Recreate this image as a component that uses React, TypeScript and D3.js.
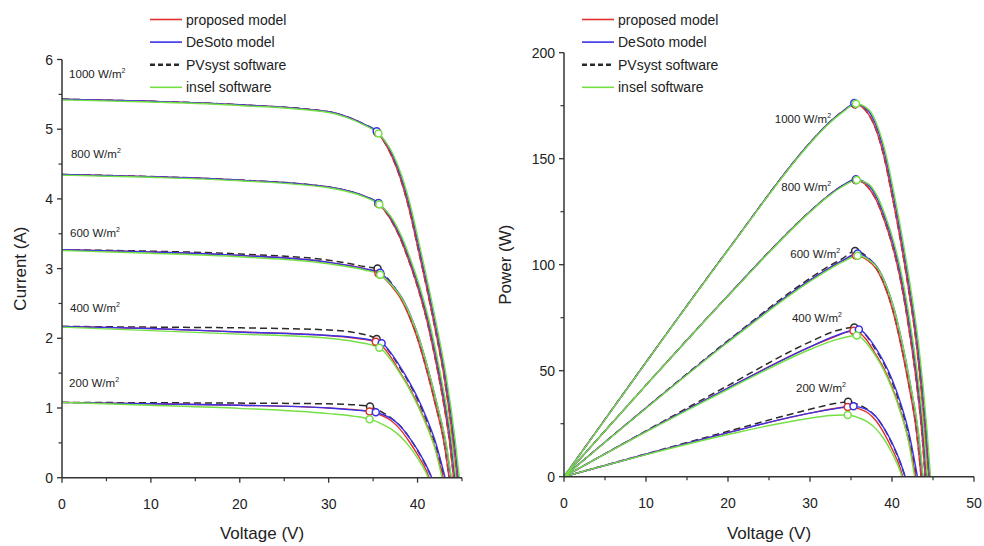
import React from 'react';
import * as d3 from 'd3';

type Pt = [number, number];

// ---------------- DATA ----------------
const irradiance = ['1000', '800', '600', '400', '200'];
const models = ['proposed model', 'DeSoto model', 'PVsyst software', 'insel software'];

// I-V curves: [voltage (V), current (A)]
const iv1000Proposed: Pt[] = [[0,5.43],[10,5.40],[20,5.35],[30,5.25],[32,5.18],[34,5.07],[35.5,4.95],[37,4.64],[38,4.32],[39,3.88],[40,3.32],[41,2.74],[42,2.12],[43,1.44],[44,0.52],[44.45,0]];
const iv1000DeSoto: Pt[] = [[0,5.43],[10,5.40],[20,5.35],[30,5.25],[32,5.18],[34,5.07],[35.5,4.96],[37.15,4.64],[38.15,4.32],[39.15,3.88],[40.15,3.32],[41.15,2.74],[42.15,2.12],[43.15,1.44],[44.15,0.52],[44.6,0]];
const iv1000PVsyst: Pt[] = [[0,5.43],[10,5.40],[20,5.35],[30,5.25],[32,5.18],[34,5.07],[35.5,4.95],[37,4.64],[38,4.32],[39,3.88],[40,3.32],[41,2.74],[42,2.12],[43,1.44],[44,0.52],[44.45,0]];
const iv1000Insel: Pt[] = [[0,5.42],[10,5.39],[20,5.34],[30,5.24],[32,5.17],[34,5.06],[35.6,4.94],[37.25,4.64],[38.25,4.32],[39.25,3.88],[40.25,3.32],[41.25,2.74],[42.25,2.12],[43.25,1.44],[44.25,0.52],[44.7,0]];

const iv800Proposed: Pt[] = [[0,4.35],[10,4.32],[20,4.27],[30,4.17],[32,4.12],[34,4.04],[35.6,3.93],[37,3.70],[38,3.45],[39,3.12],[40,2.74],[41,2.28],[42,1.70],[43,1.02],[43.6,0.52],[44.05,0]];
const iv800DeSoto: Pt[] = [[0,4.35],[10,4.32],[20,4.27],[30,4.17],[32,4.12],[34,4.04],[35.6,3.94],[37.15,3.70],[38.15,3.45],[39.15,3.12],[40.15,2.74],[41.15,2.28],[42.15,1.70],[43.15,1.02],[43.75,0.52],[44.2,0]];
const iv800PVsyst: Pt[] = [[0,4.35],[10,4.32],[20,4.27],[30,4.17],[32,4.12],[34,4.04],[35.6,3.93],[37,3.70],[38,3.45],[39,3.12],[40,2.74],[41,2.28],[42,1.70],[43,1.02],[43.6,0.52],[44.05,0]];
const iv800Insel: Pt[] = [[0,4.34],[10,4.31],[20,4.26],[30,4.16],[32,4.11],[34,4.03],[35.7,3.92],[37.25,3.70],[38.25,3.45],[39.25,3.12],[40.25,2.74],[41.25,2.28],[42.25,1.70],[43.25,1.02],[43.85,0.52],[44.3,0]];

const iv600Proposed: Pt[] = [[0,3.27],[10,3.24],[20,3.19],[30,3.09],[32,3.05],[34,3.00],[35.6,2.93],[37,2.76],[38,2.59],[39,2.33],[40,1.99],[41,1.55],[42,1.05],[43,0.48],[43.55,0]];
const iv600DeSoto: Pt[] = [[0,3.27],[10,3.24],[20,3.19],[30,3.09],[32,3.05],[34,3.00],[35.8,2.94],[37.2,2.76],[38.2,2.59],[39.2,2.33],[40.2,1.99],[41.2,1.55],[42.2,1.05],[43.2,0.48],[43.75,0]];
const iv600PVsyst: Pt[] = [[0,3.27],[10,3.25],[20,3.21],[30,3.12],[32,3.08],[34,3.03],[35.5,3.00],[37,2.80],[38,2.61],[39,2.34],[40,2.00],[41,1.56],[42,1.06],[43,0.49],[43.55,0]];
const iv600Insel: Pt[] = [[0,3.26],[10,3.22],[20,3.17],[30,3.07],[32,3.03],[34,2.98],[35.8,2.91],[37.25,2.74],[38.25,2.57],[39.25,2.31],[40.25,1.97],[41.25,1.53],[42.25,1.03],[43.25,0.47],[43.8,0]];

const iv400Proposed: Pt[] = [[0,2.17],[10,2.14],[20,2.09],[30,2.04],[33,2.00],[35.3,1.95],[36,1.89],[37,1.73],[38,1.52],[39,1.31],[40,1.06],[41,0.77],[42,0.42],[42.9,0]];
const iv400DeSoto: Pt[] = [[0,2.17],[10,2.14],[20,2.09],[30,2.04],[33,2.01],[35.96,1.93],[37,1.79],[38,1.60],[39,1.39],[40,1.15],[41,0.86],[42,0.52],[43.1,0]];
const iv400PVsyst: Pt[] = [[0,2.17],[10,2.16],[20,2.15],[30,2.12],[33,2.08],[35.4,1.99],[36,1.93],[37,1.78],[38,1.58],[39,1.37],[40,1.12],[41,0.83],[42,0.48],[43.0,0]];
const iv400Insel: Pt[] = [[0,2.16],[10,2.11],[20,2.06],[30,2.00],[33,1.95],[35.7,1.865],[37,1.69],[38,1.50],[39,1.29],[40,1.04],[41,0.75],[42,0.40],[42.75,0]];

const iv200Proposed: Pt[] = [[0,1.08],[10,1.06],[20,1.04],[30,1.00],[33,0.975],[34.6,0.95],[36,0.89],[37,0.82],[38,0.70],[39,0.53],[40,0.33],[41,0.10],[41.3,0]];
const iv200DeSoto: Pt[] = [[0,1.08],[10,1.06],[20,1.04],[30,1.00],[33,0.97],[35.3,0.94],[36,0.91],[37,0.85],[38,0.75],[39,0.59],[40,0.40],[41,0.17],[41.6,0]];
const iv200PVsyst: Pt[] = [[0,1.08],[10,1.075],[20,1.07],[30,1.06],[33,1.045],[34.65,1.02],[36,0.94],[37,0.86],[38,0.75],[39,0.59],[40,0.39],[41,0.16],[41.6,0]];
const iv200Insel: Pt[] = [[0,1.08],[10,1.04],[20,0.995],[30,0.92],[33,0.88],[34.6,0.84],[36,0.77],[37,0.70],[38,0.60],[39,0.46],[40,0.28],[41,0.06],[41.2,0]];

// P-V curves: [voltage (V), power (W)]
const pv1000Proposed: Pt[] = [[0,0],[10,54.0],[20,107.0],[30,157.5],[32,165.8],[34,172.4],[35.5,175.7],[37,171.7],[38,164.2],[39,151.3],[40,132.8],[41,112.3],[42,89.0],[43,61.9],[44,22.9],[44.45,0]];
const pv1000DeSoto: Pt[] = [[0,0],[10,54.0],[20,107.0],[30,157.5],[32,165.8],[34,172.4],[35.5,176.1],[37.15,172.4],[38.15,164.8],[39.15,151.9],[40.15,133.3],[41.15,112.8],[42.15,89.4],[43.15,62.1],[44.15,23.0],[44.6,0]];
const pv1000PVsyst: Pt[] = [[0,0],[10,54.0],[20,107.0],[30,157.5],[32,165.8],[34,172.4],[35.5,175.7],[37,171.7],[38,164.2],[39,151.3],[40,132.8],[41,112.3],[42,89.0],[43,61.9],[44,22.9],[44.45,0]];
const pv1000Insel: Pt[] = [[0,0],[10,53.9],[20,106.8],[30,157.2],[32,165.4],[34,172.0],[35.6,175.9],[37.25,172.8],[38.25,165.2],[39.25,152.3],[40.25,133.6],[41.25,113.0],[42.25,89.6],[43.25,62.3],[44.25,23.0],[44.7,0]];

const pv800Proposed: Pt[] = [[0,0],[10,43.2],[20,85.4],[30,125.1],[32,131.8],[34,137.4],[35.6,139.9],[37,136.9],[38,131.1],[39,121.7],[40,109.6],[41,93.5],[42,71.4],[43,43.9],[43.6,22.7],[44.05,0]];
const pv800DeSoto: Pt[] = [[0,0],[10,43.2],[20,85.4],[30,125.1],[32,131.8],[34,137.4],[35.6,140.3],[37.15,137.5],[38.15,131.6],[39.15,122.1],[40.15,110.0],[41.15,93.8],[42.15,71.7],[43.15,44.0],[43.75,22.75],[44.2,0]];
const pv800PVsyst: Pt[] = [[0,0],[10,43.2],[20,85.4],[30,125.1],[32,131.8],[34,137.4],[35.6,139.9],[37,136.9],[38,131.1],[39,121.7],[40,109.6],[41,93.5],[42,71.4],[43,43.9],[43.6,22.7],[44.05,0]];
const pv800Insel: Pt[] = [[0,0],[10,43.1],[20,85.2],[30,124.8],[32,131.5],[34,137.0],[35.7,139.9],[37.25,137.8],[38.25,132.0],[39.25,122.5],[40.25,110.3],[41.25,94.05],[42.25,71.8],[43.25,44.1],[43.85,22.8],[44.3,0]];

const pv600Proposed: Pt[] = [[0,0],[10,32.4],[20,63.8],[30,92.7],[32,97.6],[34,102.0],[35.6,104.3],[37,102.1],[38,98.4],[39,90.9],[40,79.6],[41,63.6],[42,44.1],[43,20.6],[43.55,0]];
const pv600DeSoto: Pt[] = [[0,0],[10,32.4],[20,63.8],[30,92.7],[32,97.6],[34,102.0],[35.8,105.3],[37.2,102.7],[38.2,98.9],[39.2,91.3],[40.2,80.0],[41.2,63.9],[42.2,44.3],[43.2,20.7],[43.75,0]];
const pv600PVsyst: Pt[] = [[0,0],[10,32.5],[20,64.2],[30,93.6],[32,98.6],[34,103.0],[35.5,106.5],[37,103.6],[38,99.2],[39,91.3],[40,80.0],[41,64.0],[42,44.5],[43,21.1],[43.55,0]];
const pv600Insel: Pt[] = [[0,0],[10,32.2],[20,63.4],[30,92.1],[32,97.0],[34,101.3],[35.8,104.2],[37.25,102.1],[38.25,98.3],[39.25,90.7],[40.25,79.3],[41.25,63.1],[42.25,43.5],[43.25,20.3],[43.8,0]];

const pv400Proposed: Pt[] = [[0,0],[10,21.4],[20,41.8],[30,61.2],[33,66.0],[35.3,68.8],[36,68.0],[37,64.0],[38,57.8],[39,51.1],[40,42.4],[41,31.6],[42,17.6],[42.9,0]];
const pv400DeSoto: Pt[] = [[0,0],[10,21.4],[20,41.8],[30,61.2],[33,66.3],[35.96,69.4],[37,66.2],[38,60.8],[39,54.2],[40,46.0],[41,35.3],[42,21.8],[43.1,0]];
const pv400PVsyst: Pt[] = [[0,0],[10,21.6],[20,43.0],[30,63.6],[33,68.6],[35.4,70.4],[36,69.5],[37,65.9],[38,60.0],[39,53.4],[40,44.8],[41,34.0],[42,20.2],[43.0,0]];
const pv400Insel: Pt[] = [[0,0],[10,21.1],[20,41.2],[30,60.0],[33,64.4],[35.7,66.6],[37,62.5],[38,57.0],[39,50.3],[40,41.6],[41,30.75],[42,16.8],[42.75,0]];

const pv200Proposed: Pt[] = [[0,0],[10,10.6],[20,20.8],[30,30.0],[33,32.2],[34.6,32.9],[36,32.0],[37,30.3],[38,26.6],[39,20.7],[40,13.2],[41,4.1],[41.3,0]];
const pv200DeSoto: Pt[] = [[0,0],[10,10.6],[20,20.8],[30,30.0],[33,32.0],[35.3,33.2],[36,32.8],[37,31.5],[38,28.5],[39,23.0],[40,16.0],[41,7.0],[41.6,0]];
const pv200PVsyst: Pt[] = [[0,0],[10,10.75],[20,21.4],[30,31.8],[33,34.5],[34.65,35.3],[36,33.8],[37,31.8],[38,28.5],[39,23.0],[40,15.6],[41,6.6],[41.6,0]];
const pv200Insel: Pt[] = [[0,0],[10,10.4],[20,19.9],[30,27.6],[33,29.0],[34.6,29.1],[36,27.7],[37,25.9],[38,22.8],[39,17.9],[40,11.2],[41,2.5],[41.2,0]];

// Maximum power points (one per irradiance, order 1000..200)
const mppIVProposed: Pt[] = [[35.5,4.95],[35.6,3.93],[35.6,2.93],[35.3,1.95],[34.6,0.95]];
const mppIVDeSoto: Pt[] = [[35.4,4.97],[35.6,3.94],[35.8,2.94],[35.96,1.93],[35.3,0.94]];
const mppIVPVsyst: Pt[] = [[35.5,4.95],[35.6,3.93],[35.5,3.00],[35.4,1.99],[34.65,1.02]];
const mppIVInsel: Pt[] = [[35.6,4.94],[35.7,3.92],[35.8,2.91],[35.7,1.865],[34.6,0.84]];
const mppPVProposed: Pt[] = [[35.5,175.7],[35.6,139.9],[35.6,104.3],[35.3,68.8],[34.6,32.9]];
const mppPVDeSoto: Pt[] = [[35.4,176.3],[35.6,140.3],[35.8,105.3],[35.96,69.4],[35.3,33.2]];
const mppPVPVsyst: Pt[] = [[35.5,175.7],[35.6,139.9],[35.5,106.5],[35.4,70.4],[34.65,35.3]];
const mppPVInsel: Pt[] = [[35.6,175.9],[35.7,139.9],[35.8,104.2],[35.7,66.6],[34.6,29.1]];

// Ticks
const ivXMajor = [0, 10, 20, 30, 40];
const ivXMinor = [5, 15, 25, 35, 45];
const ivYMajor = [0, 1, 2, 3, 4, 5, 6];
const ivYMinor = [0.5, 1.5, 2.5, 3.5, 4.5, 5.5];
const pvXMajor = [0, 10, 20, 30, 40, 50];
const pvXMinor = [5, 15, 25, 35, 45];
const pvYMajor = [0, 50, 100, 150, 200];
const pvYMinor = [25, 75, 125, 175];

// Irradiance label anchors (data coordinates)
const ivLabelPos: Pt[] = [[0.8,5.735],[1.0,4.587],[0.9,3.458],[0.9,2.382],[0.8,1.297]];
const pvLabelPos: Pt[] = [[25.7,166.7],[26.5,134.8],[27.6,103.0],[27.8,73.1],[28.3,40.1]];

// ---------------- STYLE ----------------
const FONT = '"Liberation Sans", Arial, Helvetica, sans-serif';
const COLORS = ['#e03030', '#3a32e6', '#2a2a2a', '#74e044'];
const DASH = ['', '', '7,4', ''];
const DRAW_ORDER = [2, 0, 1, 3];

const ivCurves: Pt[][][] = [
  [iv1000Proposed, iv800Proposed, iv600Proposed, iv400Proposed, iv200Proposed],
  [iv1000DeSoto, iv800DeSoto, iv600DeSoto, iv400DeSoto, iv200DeSoto],
  [iv1000PVsyst, iv800PVsyst, iv600PVsyst, iv400PVsyst, iv200PVsyst],
  [iv1000Insel, iv800Insel, iv600Insel, iv400Insel, iv200Insel],
];
const pvCurves: Pt[][][] = [
  [pv1000Proposed, pv800Proposed, pv600Proposed, pv400Proposed, pv200Proposed],
  [pv1000DeSoto, pv800DeSoto, pv600DeSoto, pv400DeSoto, pv200DeSoto],
  [pv1000PVsyst, pv800PVsyst, pv600PVsyst, pv400PVsyst, pv200PVsyst],
  [pv1000Insel, pv800Insel, pv600Insel, pv400Insel, pv200Insel],
];
const ivMpp = [mppIVProposed, mppIVDeSoto, mppIVPVsyst, mppIVInsel];
const pvMpp = [mppPVProposed, mppPVDeSoto, mppPVPVsyst, mppPVInsel];

type PanelProps = {
  x: d3.ScaleLinear<number, number>;
  y: d3.ScaleLinear<number, number>;
  xMajor: number[]; xMinor: number[]; yMajor: number[]; yMinor: number[];
  yTitle: string; yTitleX: number;
  curves: Pt[][][]; mpps: Pt[][];
  labelPos: Pt[]; legendX: number;
};

function Panel(p: PanelProps) {
  const { x, y } = p;
  const line = d3.line<Pt>().x(d => x(d[0])).y(d => y(d[1])).curve(d3.curveMonotoneX);
  const [x0, x1] = x.range();
  const [y0, y1] = y.range();
  const axisColor = '#333';
  return (
    <g>
      {DRAW_ORDER.map(m => (
        <g key={'c' + m}>
          {p.curves[m].map((c, i) => (
            <path key={i} d={line(c) || ''} fill="none" stroke={COLORS[m]}
              strokeWidth={m === 2 ? 1.5 : 1.4} strokeDasharray={DASH[m] || undefined} />
          ))}
        </g>
      ))}
      {DRAW_ORDER.map(m => (
        <g key={'m' + m}>
          {p.mpps[m].map((d, i) => (
            <circle key={i} cx={x(d[0])} cy={y(d[1])} r={3.5} fill="white" stroke={COLORS[m]} strokeWidth={1.5} />
          ))}
        </g>
      ))}
      <line x1={x0} x2={x1} y1={y0} y2={y0} stroke={axisColor} strokeWidth={1.5} />
      <line x1={x0} x2={x0} y1={y0} y2={y1} stroke={axisColor} strokeWidth={1.5} />
      {p.xMajor.map(v => (
        <g key={'xm' + v}>
          <line x1={x(v)} x2={x(v)} y1={y0} y2={y0 + 5} stroke={axisColor} strokeWidth={1.3} />
          <text x={x(v)} y={y0 + 31} textAnchor="middle" fontSize={14} fontFamily={FONT} fill="#222">{v}</text>
        </g>
      ))}
      {p.xMinor.map(v => (
        <line key={'xn' + v} x1={x(v)} x2={x(v)} y1={y0} y2={y0 + 3.5} stroke={axisColor} strokeWidth={1.2} />
      ))}
      {p.yMajor.map(v => (
        <g key={'ym' + v}>
          <line x1={x0 - 5} x2={x0} y1={y(v)} y2={y(v)} stroke={axisColor} strokeWidth={1.3} />
          <text x={x0 - 9} y={y(v) + 5} textAnchor="end" fontSize={14} fontFamily={FONT} fill="#222">{v}</text>
        </g>
      ))}
      {p.yMinor.map(v => (
        <line key={'yn' + v} x1={x0 - 3.5} x2={x0} y1={y(v)} y2={y(v)} stroke={axisColor} strokeWidth={1.2} />
      ))}
      <text x={(x0 + x1) / 2} y={539} textAnchor="middle" fontSize={17} fontFamily={FONT} fill="#222">Voltage (V)</text>
      <text transform={`translate(${p.yTitleX},${(y0 + y1) / 2}) rotate(-90)`} textAnchor="middle"
        fontSize={17} fontFamily={FONT} fill="#222">{p.yTitle}</text>
      {irradiance.map((g, i) => (
        <text key={'l' + g} x={x(p.labelPos[i][0])} y={y(p.labelPos[i][1])} fontSize={11.5}
          fontFamily={FONT} fill="#222">
          {`${g} W/m`}<tspan fontSize={7} dy={-5}>2</tspan>
        </text>
      ))}
      {models.map((name, i) => {
        const ly = 19.5 + 22.6 * i;
        return (
          <g key={'lg' + i}>
            <line x1={p.legendX} x2={p.legendX + 32} y1={ly} y2={ly} stroke={COLORS[i]}
              strokeWidth={i === 2 ? 2.4 : 1.6} strokeDasharray={i === 2 ? '5,3' : undefined} />
            <text x={p.legendX + 36} y={ly + 5} fontSize={14} fontFamily={FONT} fill="#222">{name}</text>
          </g>
        );
      })}
    </g>
  );
}

export default function App() {
  const xL = d3.scaleLinear().domain([0, 45]).range([62, 462]);
  const yL = d3.scaleLinear().domain([0, 6]).range([477.7, 59.5]);
  const xR = d3.scaleLinear().domain([0, 50]).range([564, 974]);
  const yR = d3.scaleLinear().domain([0, 200]).range([476.7, 52.7]);
  return (
    <svg width={984} height={546} style={{ position: 'absolute', left: 0, top: 0, background: 'white' }}>
      <rect x={0} y={0} width={984} height={546} fill="white" />
      <Panel x={xL} y={yL} xMajor={ivXMajor} xMinor={ivXMinor} yMajor={ivYMajor} yMinor={ivYMinor}
        yTitle="Current (A)" yTitleX={26} curves={ivCurves} mpps={ivMpp} labelPos={ivLabelPos} legendX={150} />
      <Panel x={xR} y={yR} xMajor={pvXMajor} xMinor={pvXMinor} yMajor={pvYMajor} yMinor={pvYMinor}
        yTitle="Power (W)" yTitleX={511} curves={pvCurves} mpps={pvMpp} labelPos={pvLabelPos} legendX={582} />
    </svg>
  );
}
